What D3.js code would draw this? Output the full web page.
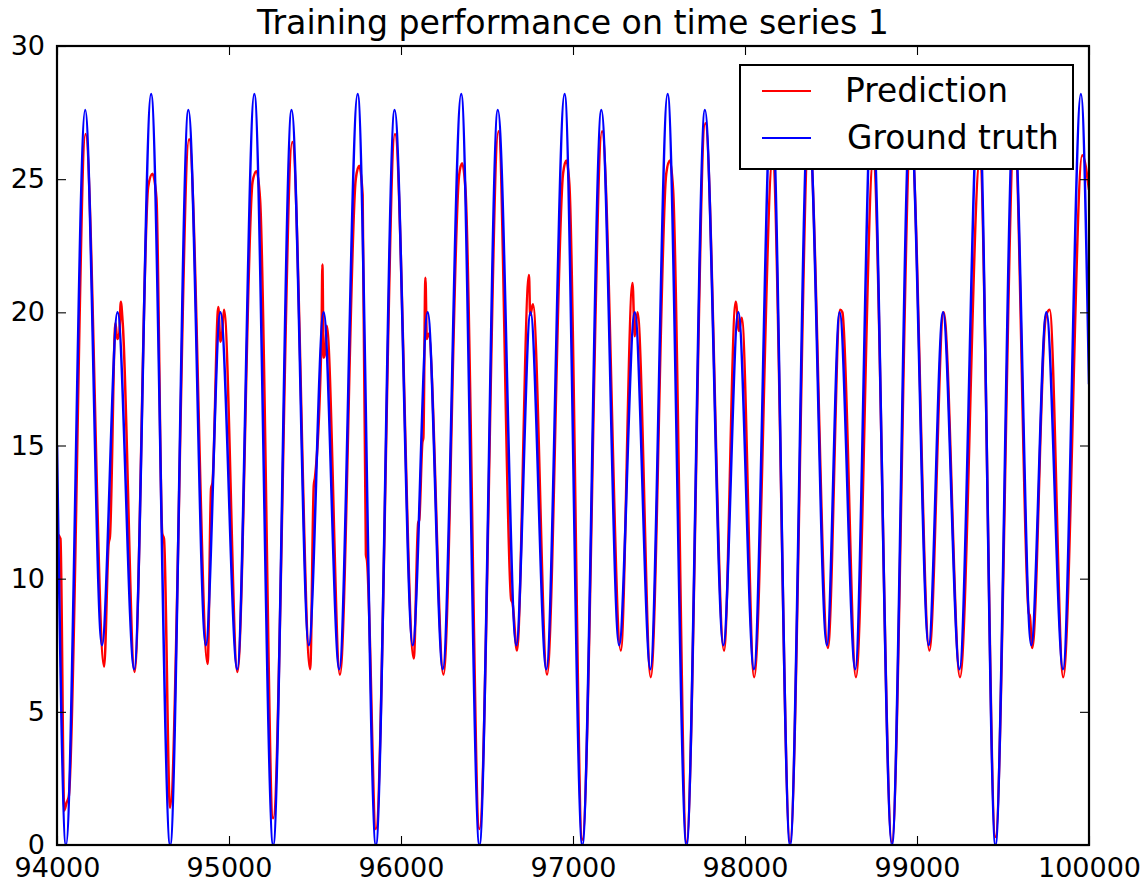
<!DOCTYPE html>
<html>
<head>
<meta charset="utf-8">
<script src="https://cdn.jsdelivr.net/npm/d3@7/dist/d3.min.js"></script>
<style>
  html, body { margin: 0; padding: 0; background: #fff; }
  svg { display: block; }
  text { font-family: "DejaVu Sans", sans-serif; }
</style>
</head>
<body>
<svg id="chart" width="1146" height="883"></svg>
<script>
// ---------------- data ----------------
const chartTitle = "Training performance on time series 1";
const seriesNames = ["Prediction", "Ground truth"];
const xTicks = [94000, 95000, 96000, 97000, 98000, 99000, 100000];
const yTicks = [0, 5, 10, 15, 20, 25, 30];

// Ground truth (key points: extrema + ends)
const truthX = [94000, 94052, 94164, 94261, 94352, 94449, 94547, 94658, 94764, 94865, 94950, 95048,
  95147, 95257, 95364, 95464, 95550, 95641, 95748, 95854, 95963, 96068, 96155, 96243,
  96350, 96456, 96563, 96670, 96753, 96845, 96951, 97054, 97165, 97268, 97359, 97450,
  97550, 97660, 97767, 97874, 97961, 98052, 98155, 98262, 98369, 98476, 98550, 98641,
  98738, 98854, 98961, 99068, 99151, 99247, 99359, 99456, 99563, 99664, 99752, 99849,
  99953, 100000];
const truthY = [15.0, 0.0, 27.6, 7.5, 20.0, 6.6, 28.2, 0.0, 27.6, 7.5, 20.0, 6.6,
  28.2, 0.0, 27.6, 7.5, 20.0, 6.6, 28.2, 0.0, 27.6, 7.5, 20.0, 6.6,
  28.2, 0.0, 27.6, 7.5, 20.0, 6.6, 28.2, 0.0, 27.6, 7.5, 20.0, 6.6,
  28.2, 0.0, 27.6, 7.5, 20.0, 6.6, 28.2, 0.0, 27.6, 7.5, 20.0, 6.6,
  28.2, 0.0, 27.6, 7.5, 20.0, 6.6, 28.2, 0.0, 27.6, 7.5, 20.0, 6.6,
  28.2, 17.3];

// Prediction (key points)
const predX = [94000, 94020, 94042, 94056, 94068, 94166, 94274, 94300, 94308, 94340, 94350, 94362,
  94371, 94382, 94451, 94530, 94555, 94578, 94612, 94622, 94657, 94768, 94876, 94896,
  94904, 94938, 94950, 94960, 94971, 95049, 95137, 95160, 95181, 95257, 95368, 95472,
  95493, 95500, 95538, 95543, 95550, 95560, 95568, 95645, 95737, 95757, 95777, 95796,
  95802, 95854, 95965, 96074, 96100, 96106, 96124, 96130, 96142, 96150, 96160, 96247,
  96337, 96355, 96375, 96456, 96567, 96641, 96648, 96674, 96744, 96751, 96767, 96849,
  96942, 96961, 96979, 97054, 97169, 97278, 97346, 97359, 97375, 97452, 97542, 97563,
  97582, 97660, 97769, 97878, 97946, 97965, 97981, 98053, 98160, 98262, 98372, 98482,
  98553, 98566, 98645, 98745, 98854, 98965, 99072, 99155, 99250, 99365, 99456, 99567,
  99650, 99656, 99670, 99748, 99771, 99850, 99961, 100000];
const predY = [11.7, 11.5, 1.3, 1.6, 1.8, 26.7, 6.7, 11.3, 11.6, 19.6, 19.0, 19.2,
  20.4, 19.6, 6.5, 24.7, 25.2, 24.3, 11.7, 11.5, 1.4, 26.5, 6.8, 13.4,
  13.6, 20.2, 18.9, 19.2, 20.1, 6.5, 24.9, 25.3, 24.2, 1.0, 26.4, 6.6,
  13.5, 13.8, 19.2, 21.8, 18.3, 18.5, 19.5, 6.4, 25.0, 25.5, 24.4, 10.9,
  10.7, 0.6, 26.7, 7.0, 12.1, 12.2, 15.1, 15.3, 21.3, 19.0, 19.2, 6.4,
  25.1, 25.6, 24.6, 0.6, 26.8, 9.2, 9.1, 7.3, 21.4, 19.9, 20.3, 6.4,
  25.2, 25.7, 24.8, 0.2, 26.8, 7.3, 21.1, 19.1, 20.0, 6.3, 25.2, 25.7,
  24.6, 0.1, 27.1, 7.3, 20.4, 19.3, 19.8, 6.3, 25.7, 0.1, 26.8, 7.4,
  20.1, 20.0, 6.3, 25.7, 0.1, 26.8, 7.3, 20.0, 6.3, 25.7, 0.3, 26.8,
  8.7, 8.6, 7.4, 19.8, 20.1, 6.3, 25.9, 24.6];

// ---------------- drawing ----------------
const svg = d3.select("#chart");
const plot = { left: 57, right: 1089, top: 46, bottom: 845 };

const x = d3.scaleLinear().domain([94000, 100000]).range([plot.left, plot.right]);
const y = d3.scaleLinear().domain([0, 30]).range([plot.bottom, plot.top]);

svg.append("defs").append("clipPath").attr("id", "clip")
  .append("rect")
  .attr("x", plot.left).attr("y", plot.top)
  .attr("width", plot.right - plot.left).attr("height", plot.bottom - plot.top);

const line = d3.line()
  .x(d => x(d[0])).y(d => y(d[1]))
  .curve(d3.curveMonotoneX);

const predData = predX.map((v, i) => [v, predY[i]]);
const truthData = truthX.map((v, i) => [v, truthY[i]]);

const lines = svg.append("g").attr("clip-path", "url(#clip)");
lines.append("path").datum(predData)
  .attr("d", line).attr("fill", "none")
  .attr("stroke", "#ff0000").attr("stroke-width", 2.5)
  .attr("stroke-linejoin", "round");
lines.append("path").datum(truthData)
  .attr("d", line).attr("fill", "none")
  .attr("stroke", "#0000ff").attr("stroke-width", 2.5)
  .attr("stroke-linejoin", "round");

// axes (ticks inside on all four sides)
const fontSize = 27;
const fmt = d3.format("d");

const gB = svg.append("g").attr("transform", `translate(0,${plot.bottom})`)
  .call(d3.axisBottom(x).tickValues(xTicks).tickFormat(fmt).tickSizeInner(-9).tickSizeOuter(0).tickPadding(13));
const gT = svg.append("g").attr("transform", `translate(0,${plot.top})`)
  .call(d3.axisTop(x).tickValues(xTicks).tickFormat("").tickSizeInner(-9).tickSizeOuter(0));
const gL = svg.append("g").attr("transform", `translate(${plot.left},0)`)
  .call(d3.axisLeft(y).tickValues(yTicks).tickFormat(fmt).tickSizeInner(-9).tickSizeOuter(0).tickPadding(12));
const gR = svg.append("g").attr("transform", `translate(${plot.right},0)`)
  .call(d3.axisRight(y).tickValues(yTicks).tickFormat("").tickSizeInner(-9).tickSizeOuter(0));

[gB, gT, gL, gR].forEach(g => {
  g.select(".domain").remove();
  g.selectAll(".tick line").attr("stroke", "#000").attr("stroke-width", 1.1);
  g.selectAll("text").attr("font-size", fontSize).attr("fill", "#000")
    .attr("font-family", "DejaVu Sans");
});

// frame
svg.append("rect")
  .attr("x", plot.left).attr("y", plot.top)
  .attr("width", plot.right - plot.left).attr("height", plot.bottom - plot.top)
  .attr("fill", "none").attr("stroke", "#000").attr("stroke-width", 2.2);

// title
svg.append("text")
  .attr("x", (plot.left + plot.right) / 2).attr("y", 34)
  .attr("text-anchor", "middle")
  .attr("font-size", 33.2).attr("fill", "#000")
  .text(chartTitle);

// legend
const legend = svg.append("g");
legend.append("rect")
  .attr("x", 740).attr("y", 65).attr("width", 333).attr("height", 104)
  .attr("fill", "#fff").attr("stroke", "#000").attr("stroke-width", 2);
const legColors = ["#ff0000", "#0000ff"];
const legY = [91, 138];
const legTextX = [845, 847];
seriesNames.forEach((name, i) => {
  legend.append("line")
    .attr("x1", 762).attr("x2", 811).attr("y1", legY[i]).attr("y2", legY[i])
    .attr("stroke", legColors[i]).attr("stroke-width", 2.2);
  legend.append("text")
    .attr("x", legTextX[i]).attr("y", legY[i])
    .attr("dominant-baseline", "central")
    .attr("font-size", 32.8).attr("fill", "#000")
    .text(name);
});
</script>
</body>
</html>
